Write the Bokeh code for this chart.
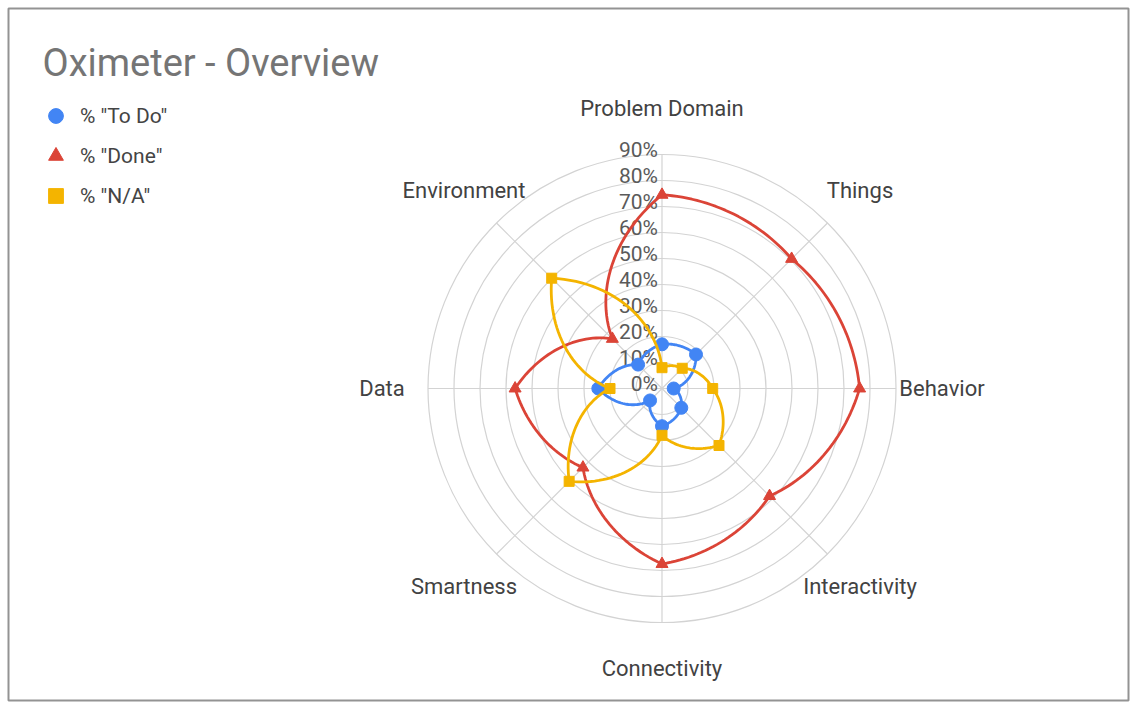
import numpy as np
from bokeh.plotting import figure
from bokeh.models import Legend, LegendItem, Label, Range1d
from bokeh.core.properties import value
from bokeh.embed import file_html
from bokeh.resources import INLINE

# ---------------- data ----------------
chart_title = "Oximeter - Overview"
categories = ["Problem Domain", "Things", "Behavior", "Interactivity",
              "Connectivity", "Smartness", "Data", "Environment"]
todo = [17, 18.5, 4.5, 10.5, 14.5, 6.5, 24.5, 13]
done = [74.5, 70.5, 76, 58.5, 67.5, 43, 56.5, 27]
na = [8, 11, 19.5, 31, 18, 50.5, 20, 60]
series_names = ['% "To Do"', '% "Done"', '% "N/A"']
tick_values = [0, 10, 20, 30, 40, 50, 60, 70, 80, 90]
tick_labels = ["0%", "10%", "20%", "30%", "40%", "50%", "60%", "70%", "80%", "90%"]

# ---------------- layout ----------------
W, H = 1120, 692             # frame size
PX = 2.6                     # pixels per percentage point
CX, CY = 653.5, 380.0        # centre of the radar, in frame pixels
FONT = "Roboto"
BLUE, RED, YELLOW = "#4285f4", "#db4437", "#f4b400"
GRID = "#d3d3d3"

p = figure(width=W + 10, height=H + 11, output_backend="svg", toolbar_location=None,
           x_range=Range1d(-CX / PX, (W - CX) / PX),
           y_range=Range1d(-(H - CY) / PX, CY / PX),
           x_axis_type=None, y_axis_type=None,
           min_border_left=8, min_border_top=8, min_border_right=2, min_border_bottom=3,
           background_fill_color="white", border_fill_color="white")
p.grid.visible = False
p.outline_line_color = "#939393"
p.outline_line_width = 2

n = len(categories)
angles = np.pi / 2 - 2 * np.pi * np.arange(n) / n
rmax = tick_values[-1]

# rings and spokes
p.circle(x=[0] * (len(tick_values) - 1), y=[0] * (len(tick_values) - 1),
         radius=tick_values[1:], fill_color=None, line_color=GRID, line_width=1.2)
p.segment(x0=[0] * n, y0=[0] * n, x1=list(rmax * np.cos(angles)),
          y1=list(rmax * np.sin(angles)), line_color=GRID, line_width=1.2)

# radial tick labels
p.text(x=[0] * len(tick_values), y=tick_values, text=tick_labels,
       text_align="right", text_baseline="alphabetic", x_offset=-4, y_offset=-5,
       text_font=value(FONT), text_font_size="21px", text_color="#5a5a5a")

# category labels
r_lab = 107.7
p.text(x=list(r_lab * np.cos(angles)), y=list(r_lab * np.sin(angles)), text=categories,
       text_align="center", text_baseline="middle",
       text_font=value(FONT), text_font_size="22px", text_color="#424242")


def polar_path(vals):
    xs, ys = [], []
    for i in range(n):
        v0, v1 = vals[i], vals[(i + 1) % n]
        a0 = angles[i]
        a1 = a0 - 2 * np.pi / n
        t = np.linspace(0, 1, 30, endpoint=(i == n - 1))
        r = v0 + (v1 - v0) * t
        a = a0 + (a1 - a0) * t
        xs.extend(r * np.cos(a))
        ys.extend(r * np.sin(a))
    xs.append(xs[0]); ys.append(ys[0])
    return xs, ys


items = []
specs = [(todo, BLUE, "circle", 13), (done, RED, "triangle", 12), (na, YELLOW, "square", 10)]
for (vals, col, mk, sz), name in zip(specs, series_names):
    xs, ys = polar_path(vals)
    p.line(xs, ys, line_color=col, line_width=2.8)
    vx = list(np.array(vals) * np.cos(angles))
    vy = list(np.array(vals) * np.sin(angles))
    r = p.scatter(vx, vy, marker=mk, size=sz, fill_color=col, line_color=col)
    items.append(LegendItem(label=name, renderers=[r]))

legend = Legend(items=items, location=(29, 486), orientation="vertical",
                glyph_width=37, glyph_height=37, spacing=3, label_standoff=6,
                padding=0, margin=0, border_line_color=None,
                background_fill_alpha=0, label_text_font=FONT,
                label_text_font_size="21px", label_text_color="#444444")
p.add_layout(legend, "center")

p.add_layout(Label(x=34, y=H - 54, x_units="screen", y_units="screen", text=chart_title,
                   text_baseline="middle", text_font=FONT, text_font_size="38px",
                   text_color="#757575"))

open("out.html", "w").write(file_html(p, INLINE))
